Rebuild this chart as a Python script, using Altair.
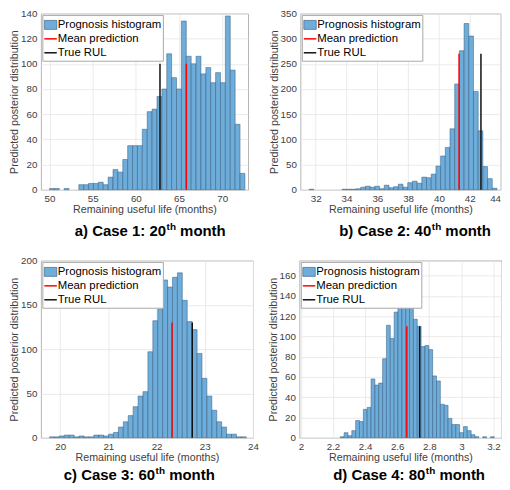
import altair as alt
import pandas as pd

# ---------------- data ----------------
# Case 1 (20th month)
a_counts = [1, 1, 0, 1, 0, 0, 4, 4, 5, 5, 6, 4, 10, 16, 14, 24, 35, 35, 35, 48,
            62, 64, 74, 80, 108, 89, 80, 134, 106, 100, 106, 92, 97, 85, 93, 85, 138, 95, 52, 13]
a_bin_start, a_bin_width = 50.0, 0.566
a_mean, a_true, a_line_h = 65.85, 62.8, 100
a_xticks = [50, 55, 60, 65, 70]
a_yticks = [0, 20, 40, 60, 80, 100, 120, 140]

# Case 2 (40th month)
b_counts = [1, 0, 0, 0, 0, 0, 0, 1, 1, 1, 2, 5, 7, 5, 7, 2, 9, 4, 6, 11,
            5, 14, 17, 13, 25, 24, 31, 47, 67, 84, 121, 210, 276, 330, 305, 195, 117, 46, 22, 3]
b_bin_start, b_bin_width = 31.57, 0.305
b_mean, b_true, b_line_h = 41.31, 42.73, 270
b_xticks = [32, 34, 36, 38, 40, 42, 44]
b_yticks = [0, 50, 100, 150, 200, 250, 300, 350]

# Case 3 (60th month)
c_counts = [1, 1, 2, 3, 3, 1, 2, 1, 1, 3, 3, 2, 4, 6, 12, 18, 25, 35, 47, 52,
            97, 132, 145, 178, 170, 181, 186, 155, 131, 122, 95, 67, 47, 31, 18, 12, 4, 4, 1, 1]
c_bin_start, c_bin_width = 19.78, 0.102
c_mean, c_true, c_line_h = 22.32, 22.74, 130
c_xticks = [20, 21, 22, 23, 24]
c_yticks = [0, 50, 100, 150, 200]

# Case 4 (80th month)
d_counts = [1, 5, 2, 7, 17, 16, 28, 30, 58, 52, 54, 78, 111, 98, 124, 141, 146, 135, 137, 117,
            110, 90, 91, 87, 61, 56, 33, 32, 19, 13, 13, 5, 11, 7, 3, 1, 0, 1, 0, 1]
d_bin_start, d_bin_width = 2.245, 0.024
d_mean, d_true, d_line_h = 2.66, 2.74, 110
d_xticks = [2, 2.2, 2.4, 2.6, 2.8, 3, 3.2]
d_yticks = [0, 20, 40, 60, 80, 100, 120, 140, 160]

legend_labels = ["Prognosis histogram", "Mean prediction", "True RUL"]
titles = [("a) Case 1: 20", "th", "month"),
          ("b) Case 2: 40", "th", "month"),
          ("c) Case 3: 60", "th", "month"),
          ("d) Case 4: 80", "th", "month")]

# ---------------- styling ----------------
FONT = "Liberation Sans"
BAR_FILL = "#6eacd9"
BAR_EDGE = "#2f577a"
BOX = "#b4b4b4"
TXT = "#404040"

ARIAL_BOLD = {'a': 556, 'b': 611, 'c': 556, 'd': 611, ')': 333, ' ': 278, 'C': 722, 's': 556,
              'e': 556, '1': 556, '2': 556, '3': 556, '4': 556, '6': 556, '8': 556, '0': 556,
              ':': 333, 't': 333, 'h': 611, 'm': 889, 'o': 611, 'n': 611}


def text_w(s, size):
    return sum(ARIAL_BOLD.get(ch, 556) for ch in s) * size / 1000.0


def one(text=""):
    return alt.Chart(pd.DataFrame({"t": [text]}))


def panel(counts, start, width, mean, true, lh, xdom, ydom, xticks, yticks, xfmt,
          w, h, title, tx, tbase, label_flush=False):
    df = pd.DataFrame({"count": counts})
    df["x0"] = start + width * df.index
    df["x1"] = df["x0"] + width
    df["base"] = 0
    df = df[df["count"] > 0]

    xs = alt.Scale(domain=xdom, nice=False, zero=False)
    ys = alt.Scale(domain=ydom, nice=False, zero=True)

    bars = alt.Chart(df).mark_bar(fill=BAR_FILL, stroke=BAR_EDGE, strokeWidth=0.6,
                                  strokeOpacity=0.8).encode(
        x=alt.X("x0:Q", scale=xs,
                axis=alt.Axis(values=xticks, format=xfmt, title="Remaining useful life (months)",
                              labelFlush=label_flush, labelOverlap=False, tickCount=50)),
        x2="x1:Q",
        y=alt.Y("count:Q", scale=ys,
                axis=alt.Axis(values=yticks, title="Predicted posterior distribution",
                              labelOverlap=False, tickCount=50)),
        y2="base:Q",
    )

    ldf = pd.DataFrame({"x": [mean, true], "y0": [0, 0], "h": [lh, lh],
                        "kind": ["Mean prediction", "True RUL"]})
    rules = alt.Chart(ldf).mark_rule(strokeWidth=1.5).encode(
        x="x:Q", y="y0:Q", y2="h:Q",
        color=alt.Color("kind:N", scale=alt.Scale(domain=["Mean prediction", "True RUL"],
                                                  range=["#ff0000", "#111111"]), legend=None),
    )

    layers = [bars, rules]

    # legend box
    layers.append(one().mark_rect(fill="white", stroke="#a8a8a8", strokeWidth=1).encode(
        x=alt.value(2), x2=alt.value(123), y=alt.value(2), y2=alt.value(48)))
    row_y = [11.5, 25.5, 39.5]
    layers.append(one().mark_rect(fill=BAR_FILL, stroke=BAR_EDGE, strokeWidth=0.6).encode(
        x=alt.value(3.5), x2=alt.value(16), y=alt.value(row_y[0] - 4.5), y2=alt.value(row_y[0] + 4.5)))
    layers.append(one().mark_rule(color="#ff0000", strokeWidth=1.5).encode(
        x=alt.value(3.5), x2=alt.value(16), y=alt.value(row_y[1])))
    layers.append(one().mark_rule(color="#111111", strokeWidth=1.5).encode(
        x=alt.value(3.5), x2=alt.value(16), y=alt.value(row_y[2])))
    for lbl, yy in zip(legend_labels, row_y):
        layers.append(one(lbl).mark_text(align="left", baseline="middle", font=FONT,
                                         fontSize=11.4, color="black").encode(
            x=alt.value(17), y=alt.value(yy), text="t:N"))

    # caption below the panel, with superscript
    main, sup, rest = title
    w1 = text_w(main, 15)
    w2 = text_w(sup, 10)
    sp = text_w(" ", 15)
    layers.append(one(main).mark_text(align="left", baseline="alphabetic", font=FONT,
                                      fontSize=15, fontWeight="bold", color="black").encode(
        x=alt.value(tx), y=alt.value(tbase), text="t:N"))
    layers.append(one(sup).mark_text(align="left", baseline="alphabetic", font=FONT,
                                     fontSize=10, fontWeight="bold", color="black").encode(
        x=alt.value(tx + w1 + 0.5), y=alt.value(tbase - 5.5), text="t:N"))
    layers.append(one(rest).mark_text(align="left", baseline="alphabetic", font=FONT,
                                      fontSize=15, fontWeight="bold", color="black").encode(
        x=alt.value(tx + w1 + w2 + 0.5 + sp), y=alt.value(tbase), text="t:N"))

    return alt.layer(*layers).properties(width=w, height=h)


pa = panel(a_counts, a_bin_start, a_bin_width, a_mean, a_true, a_line_h, [49, 73], [0, 140],
           a_xticks, a_yticks, "~g", 208, 177, titles[0], 34, 223)
pb = panel(b_counts, b_bin_start, b_bin_width, b_mean, b_true, b_line_h, [31, 44], [0, 350],
           b_xticks, b_yticks, "~g", 201, 177, titles[1], 39, 223, label_flush=True)
pc = panel(c_counts, c_bin_start, c_bin_width, c_mean, c_true, c_line_h, [19.6, 24], [0, 200],
           c_xticks, c_yticks, "~g", 213, 178, titles[2], 23, 220)
pd_ = panel(d_counts, d_bin_start, d_bin_width, d_mean, d_true, d_line_h, [1.99, 3.25], [0, 175],
            d_xticks, d_yticks, "~g", 203, 178, titles[3], 34, 220)

chart = alt.vconcat(
    alt.hconcat(pa, pb, spacing=18.5),
    alt.hconcat(pc, pd_, spacing=7.5),
    spacing=15,
).properties(
    padding={"left": 0, "top": -1.5, "right": 0, "bottom": 0}
).configure_view(
    stroke=BOX, strokeWidth=1
).configure_axis(
    labelFont=FONT, labelFontSize=9.8, labelColor=TXT,
    titleFont=FONT, titleFontSize=10.7, titleFontWeight="normal", titleColor=TXT,
    grid=True, gridColor="#e6e6e6", gridWidth=0.8,
    domain=False, ticks=False, tickSize=0, labelPadding=4, titlePadding=1,
)

chart.save("out.html", embed_options={"renderer": "svg", "actions": False})
